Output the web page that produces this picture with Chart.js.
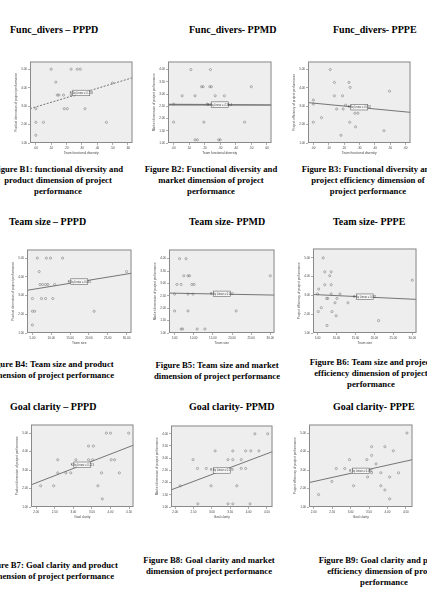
<!DOCTYPE html>
<html>
<head>
<meta charset="utf-8">
<script src="https://cdn.jsdelivr.net/npm/chart.js@4.4.1/dist/chart.umd.min.js"></script>
<style>
body{margin:0;width:427px;height:605px;overflow:hidden;background:#fff;position:relative;font-family:"Liberation Serif","Times New Roman",serif;color:#000;}
.ttl{position:absolute;font-weight:bold;font-size:10px;line-height:12px;white-space:nowrap;}
.cap{position:absolute;width:200px;text-align:center;font-weight:bold;font-size:8.7px;line-height:11px;white-space:nowrap;}
canvas{position:absolute;}
</style>
</head>
<body>
<div class="ttl" style="left:10px;top:24px">Func_divers – PPPD</div>
<div class="ttl" style="left:189px;top:24px">Func_divers- PPMD</div>
<div class="ttl" style="left:333px;top:24px">Func_divers- PPPE</div>
<div class="ttl" style="left:9px;top:216px">Team size – PPPD</div>
<div class="ttl" style="left:189px;top:216px">Team size- PPMD</div>
<div class="ttl" style="left:333px;top:216px">Team size- PPPE</div>
<div class="ttl" style="left:10px;top:401px">Goal clarity – PPPD</div>
<div class="ttl" style="left:189px;top:401px">Goal clarity- PPMD</div>
<div class="ttl" style="left:333px;top:401px">Goal clarity- PPPE</div>

<div class="cap" style="left:-42px;top:164px">Figure B1: functional diversity and<br>product dimension of project<br>performance</div>
<div class="cap" style="left:111px;top:164px">Figure B2: Functional diversity and<br>market dimension of project<br>performance</div>
<div class="cap" style="left:268px;top:164px">Figure B3: Functional diversity and<br>project efficiency dimension of<br>project performance</div>
<div class="cap" style="left:-49px;top:359px">Figure B4: Team size and product<br>dimension of project performance</div>
<div class="cap" style="left:117px;top:360px">Figure B5: Team size and market<br>dimension of project performance</div>
<div class="cap" style="left:271px;top:357px">Figure B6: Team size and project<br>efficiency dimension of project<br>performance</div>
<div class="cap" style="left:-49px;top:560px">Figure B7: Goal clarity and product<br>dimension of project performance</div>
<div class="cap" style="left:109px;top:555px">Figure B8: Goal clarity and market<br>dimension of project performance</div>
<div class="cap" style="left:284px;top:555px">Figure B9: Goal clarity and project<br>efficiency dimension of project<br>performance</div>

<canvas id="b1"></canvas><canvas id="b2"></canvas><canvas id="b3"></canvas>
<canvas id="b4"></canvas><canvas id="b5"></canvas><canvas id="b6"></canvas>
<canvas id="b7"></canvas><canvas id="b8"></canvas><canvas id="b9"></canvas>

<script>
// tick values
var divTicks = [0, 0.1, 0.2, 0.3, 0.4, 0.5, 0.6];
var sizeTicks = [5, 10, 15, 20, 25, 30];
var goalTicks = [2, 2.5, 3, 3.5, 4, 4.5];
var perf5Ticks = [1, 2, 3, 4, 5];
var perf4Ticks = [1, 1.5, 2, 2.5, 3, 3.5, 4];

// B1 functional diversity vs product dimension
var xB1 = [0.10, 0.23, 0.27, 0.29, 0.13, 0.14, 0.15, 0.18, 0.23, 0.25, 0.185, 0.205, 0.32, 0.0, 0.0, 0.05, 0.46, 0.0, 0.50];
var yB1 = [5, 5, 5, 5, 4.3, 3.6, 3.6, 3.6, 3.6, 3.6, 2.86, 2.86, 2.86, 2.86, 2.12, 2.12, 2.12, 1.42, 4.26];
var fitB1 = [[-0.038, 2.86], [0.63, 4.54]];

// B2 functional diversity vs market dimension
var xB2 = [0.111, 0.237, 0.18, 0.19, 0.233, 0.243, 0.055, 0.138, 0.268, 0.327, 0.5, 0.0, 0.216, 0.25, 0.28, 0.33, 0.0, 0.195, 0.457, 0.138, 0.153, 0.29, 0.30];
var yB2 = [4.0, 4.0, 3.3, 3.3, 3.3, 3.3, 2.93, 2.93, 2.93, 2.93, 3.3, 2.59, 2.59, 2.59, 2.59, 2.59, 1.85, 1.85, 1.85, 1.13, 1.13, 1.13, 1.13];
var fitB2 = [[-0.036, 2.57], [0.63, 2.55]];

// B3 functional diversity vs efficiency
var xB3 = [0.11, 0.137, 0.232, 0.137, 0.19, 0.24, 0.0, 0.0, 0.152, 0.194, 0.21, 0.26, 0.27, 0.29, 0.053, 0.0, 0.237, 0.275, 0.18, 0.46, 0.496];
var yB3 = [5.0, 4.3, 4.3, 3.57, 3.57, 4.03, 3.34, 3.12, 2.85, 2.85, 3.06, 2.94, 2.62, 2.62, 2.38, 2.13, 2.13, 1.88, 1.42, 1.67, 3.82];
var fitB3 = [[-0.035, 3.2], [0.633, 2.67]];

// B4 team size vs product dimension
var xB4 = [6.3, 8.7, 9.8, 13.0, 6.8, 7.0, 7.7, 8.5, 9.1, 10.9, 5, 7.4, 8.5, 10.4, 5, 5.6, 21.4, 5, 30];
var yB4 = [5, 5, 5, 5, 4.28, 3.59, 3.59, 3.59, 3.59, 3.59, 2.84, 2.84, 2.84, 2.84, 2.16, 2.16, 2.16, 1.43, 4.28];
var fitB4 = [[3.56, 3.28], [31.3, 4.19]];

// B5 team size vs market dimension
var xB5 = [6.3, 8.0, 7.4, 8.5, 8.9, 5.6, 6.7, 9.5, 10.1, 5, 8.5, 9.8, 5, 8.5, 21.1, 6.7, 7.1, 10.9, 12.9, 30];
var yB5 = [4, 4, 3.31, 3.31, 3.31, 2.96, 2.96, 2.96, 2.96, 2.57, 2.57, 2.57, 1.89, 1.89, 1.89, 1.16, 1.16, 1.16, 1.16, 3.31];
var fitB5 = [[3.54, 2.61], [31.1, 2.53]];

// B6 team size vs efficiency
var xB6 = [6.5, 6.9, 8.6, 8.2, 6.9, 8.6, 5.3, 5, 8.6, 10.9, 7.4, 7.7, 10.1, 9.6, 13.0, 6.0, 5.2, 8.8, 9.9, 7.5, 21.1, 30];
var yB6 = [5, 4.26, 4.26, 4.05, 3.57, 3.57, 3.34, 3.08, 3.08, 3.08, 2.84, 2.84, 2.84, 2.61, 2.61, 2.35, 2.14, 2.14, 1.92, 1.40, 1.66, 3.81];
var fitB6 = [[3.8, 3.05], [31.1, 2.79]];

// B7 goal clarity vs product dimension
var xB7 = [2.12, 2.47, 2.58, 2.58, 2.80, 2.93, 3.07, 3.41, 3.54, 3.41, 3.52, 3.76, 3.66, 3.78, 3.89, 4.0, 4.49, 4.02, 4.11, 4.24, 3.07];
var yB7 = [2.15, 2.15, 3.56, 2.85, 2.85, 2.85, 3.56, 4.30, 4.30, 3.56, 3.56, 2.85, 2.15, 1.44, 5, 5, 5, 3.56, 3.56, 2.85, 3.26];
var fitB7 = [[1.86, 2.2], [4.62, 4.35]];

// B8 goal clarity vs market dimension
var xB8 = [2.14, 2.49, 2.61, 2.62, 2.85, 2.98, 3.09, 3.44, 3.57, 3.57, 3.44, 3.57, 3.68, 3.80, 3.80, 3.92, 3.92, 4.06, 4.04, 4.17, 4.28, 4.52, 3.15];
var yB8 = [1.87, 2.94, 2.58, 1.13, 2.58, 1.87, 3.30, 2.94, 2.94, 3.30, 1.13, 1.13, 1.87, 2.94, 2.58, 2.58, 3.30, 3.30, 1.13, 4.0, 3.30, 4.0, 2.47];
var fitB8 = [[1.89, 1.70], [4.65, 3.27]];

// B9 goal clarity vs efficiency
var xB9 = [2.13, 2.49, 2.61, 2.84, 2.97, 3.08, 3.44, 3.46, 3.57, 3.57, 3.57, 3.69, 3.82, 3.82, 3.93, 3.93, 4.06, 4.06, 4.16, 4.30, 4.53];
var yB9 = [1.67, 2.38, 3.08, 3.08, 3.56, 2.15, 3.56, 2.62, 4.26, 3.79, 2.85, 3.33, 2.85, 2.15, 4.26, 1.92, 2.62, 1.44, 4.04, 2.85, 5.0];
var fitB9 = [[1.87, 2.32], [4.68, 3.56]];

var rsqLabels = ["R Sq Linear = 0.158", "R Sq Linear = 4.3E-4", "R Sq Linear = 0.032",
                 "R Sq Linear = 0.061", "R Sq Linear = 0.002", "R Sq Linear = 0.011",
                 "R Sq Linear = 0.213", "R Sq Linear = 0.179", "R Sq Linear = 0.092"];

function fmt(v) {
  var s = Number(v).toFixed(2);
  return s.indexOf("0.") == 0 ? s.slice(1) : s;
}

var framePlugin = {
  id: 'frame',
  beforeDraw: function (chart) {
    var a = chart.chartArea, ctx = chart.ctx;
    ctx.save();
    ctx.fillStyle = '#eeeeee';
    ctx.fillRect(a.left, a.top, a.right - a.left, a.bottom - a.top);
    ctx.restore();
  },
  afterDraw: function (chart, args, opts) {
    var a = chart.chartArea, ctx = chart.ctx;
    ctx.save();
    ctx.strokeStyle = '#8a8a8a';
    ctx.lineWidth = 1;
    ctx.strokeRect(a.left + 0.5, a.top + 0.5, a.right - a.left - 1, a.bottom - a.top - 1);
    // R square label sits on the fit line in the middle
    var fit = chart.data.datasets[1].data;
    var cx = (a.left + a.right) / 2;
    var xv = chart.scales.x.getValueForPixel(cx);
    var t = (xv - fit[0].x) / (fit[1].x - fit[0].x);
    var cy = chart.scales.y.getPixelForValue(fit[0].y + t * (fit[1].y - fit[0].y));
    ctx.fillStyle = '#f6f6f6';
    ctx.fillRect(cx - 8.5, cy - 3, 17, 5.5);
    ctx.strokeStyle = '#666';
    ctx.lineWidth = 0.6;
    ctx.strokeRect(cx - 8.5, cy - 3, 17, 5.5);
    ctx.fillStyle = '#444';
    ctx.font = '2.6px Arial';
    ctx.textAlign = 'center';
    ctx.textBaseline = 'middle';
    ctx.fillText(opts.rsq, cx, cy);
    ctx.restore();
  }
};

function axisCfg(range, tickVals, title, isX) {
  return {
    type: 'linear',
    min: range[0],
    max: range[1],
    afterBuildTicks: function (ax) {
      ax.ticks = tickVals.map(function (v) { return {value: v}; });
    },
    afterFit: function (ax) {
      if (isX) ax.height = 12; else ax.width = 16;
      ax.paddingLeft = 0; ax.paddingRight = 0; ax.paddingTop = 0; ax.paddingBottom = 0;
    },
    grid: {drawOnChartArea: false, tickLength: 2, color: '#777', lineWidth: 0.6},
    border: {display: false},
    ticks: {font: {size: 3, family: 'Arial'}, color: '#444', padding: 1, maxRotation: 0, autoSkip: false,
            callback: function (v) { return fmt(v); }},
    title: {display: true, text: title, font: {size: 3.2, family: 'Arial'}, color: '#444', padding: 0}
  };
}

// box = [left, top, width, height] of the plot frame on the page
function makeChart(id, box, xs, ys, fit, xTicks, yTicks, xRange, yRange, xTitle, yTitle, rsq, lineStyle) {
  var cv = document.getElementById(id);
  var w = box[2] + 18, h = box[3] + 14;
  cv.width = w; cv.height = h;
  cv.style.left = (box[0] - 16) + 'px';
  cv.style.top = (box[1] - 2) + 'px';
  cv.style.width = w + 'px';
  cv.style.height = h + 'px';
  var pts = [];
  for (var i = 0; i < xs.length; i++) pts.push({x: xs[i], y: ys[i]});
  new Chart(cv, {
    type: 'scatter',
    data: {
      datasets: [{
        data: pts,
        pointRadius: 1.1,
        pointBorderWidth: 0.5,
        pointBorderColor: '#6a6a6a',
        pointBackgroundColor: 'rgba(0,0,0,0)'
      }, {
        type: 'line',
        data: [{x: fit[0][0], y: fit[0][1]}, {x: fit[1][0], y: fit[1][1]}],
        borderColor: lineStyle.color,
        borderWidth: lineStyle.width,
        borderDash: lineStyle.dash,
        pointRadius: 0,
        fill: false
      }]
    },
    options: {
      responsive: false,
      animation: false,
      devicePixelRatio: 1,
      layout: {padding: {top: 2, right: 2, left: 0, bottom: 0}},
      scales: {
        x: axisCfg(xRange, xTicks, xTitle, true),
        y: axisCfg(yRange, yTicks, yTitle, false)
      },
      plugins: {legend: {display: false}, tooltip: {enabled: false}, frame: {rsq: rsq}}
    },
    plugins: [framePlugin]
  });
}

var thin = {color: '#555', width: 0.8, dash: []};

makeChart('b1', [30, 59, 105, 84], xB1, yB1, fitB1, divTicks, perf5Ticks, [-0.038, 0.63], [1, 5.42],
  'Team functional diversity', 'Product dimension of project performance', rsqLabels[0], {color: '#555', width: 0.8, dash: [2, 1.5]});
makeChart('b2', [168, 59, 106, 84], xB2, yB2, fitB2, divTicks, perf4Ticks, [-0.036, 0.63], [1, 4.33],
  'Team functional diversity', 'Market dimension of project performance', rsqLabels[1], {color: '#777', width: 1.6, dash: []});
makeChart('b3', [308, 59, 105, 84], xB3, yB3, fitB3, divTicks, perf5Ticks, [-0.035, 0.633], [1, 5.44],
  'Team functional diversity', 'Project efficiency of project performance', rsqLabels[2], thin);
makeChart('b4', [27, 247, 107, 86], xB4, yB4, fitB4, sizeTicks, perf5Ticks, [3.56, 31.3], [1, 5.46],
  'Team size', 'Product dimension of project performance', rsqLabels[3], thin);
makeChart('b5', [169, 247, 108, 86], xB5, yB5, fitB5, sizeTicks, perf4Ticks, [3.54, 31.1], [1, 4.37],
  'Team size', 'Market dimension of project performance', rsqLabels[4], thin);
makeChart('b6', [313, 246, 106, 87], xB6, yB6, fitB6, sizeTicks, perf5Ticks, [3.8, 31.1], [1, 5.5],
  'Team size', 'Project efficiency of project performance', rsqLabels[5], thin);
makeChart('b7', [31, 422, 105, 85], xB7, yB7, fitB7, goalTicks, perf5Ticks, [1.86, 4.62], [1, 5.47],
  'Goal clarity', 'Product dimension of project performance', rsqLabels[6], thin);
makeChart('b8', [171, 423, 104, 84], xB8, yB8, fitB8, goalTicks, perf4Ticks, [1.89, 4.65], [1, 4.34],
  'Goal clarity', 'Market dimension of project performance', rsqLabels[7], thin);
makeChart('b9', [309, 422, 106, 85], xB9, yB9, fitB9, goalTicks, perf5Ticks, [1.87, 4.68], [1, 5.46],
  'Goal clarity', 'Project efficiency of project performance', rsqLabels[8], thin);
</script>
</body>
</html>
